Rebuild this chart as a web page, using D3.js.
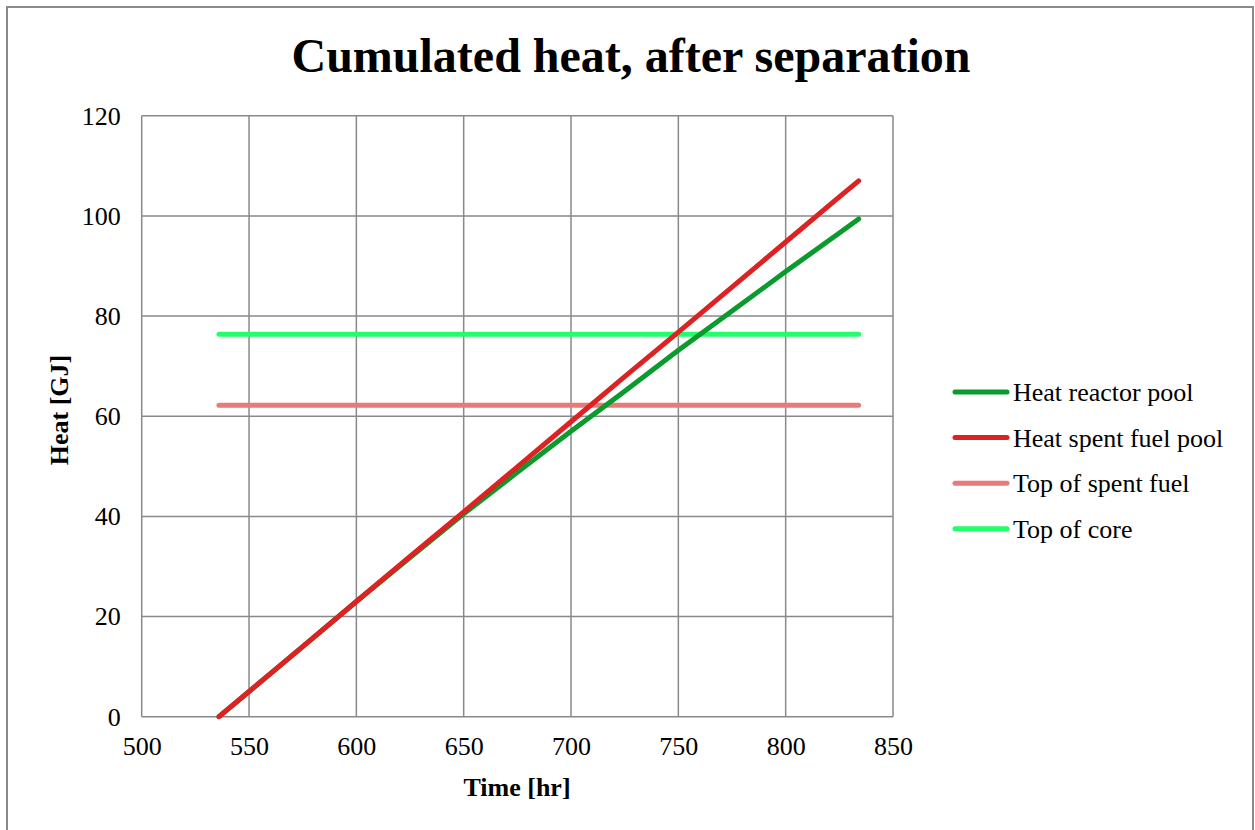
<!DOCTYPE html>
<html><head><meta charset="utf-8">
<script src="https://cdn.jsdelivr.net/npm/d3@7"></script>
<style>body{margin:0;background:#fff}svg{display:block}text{font-family:"Liberation Serif","Times New Roman",serif}</style>
</head><body>
<script>
const timeHr = [536,550,575,600,625,650,675,700,725,750,775,800,825,834];
const heatReactorPool = [0,5.0,14.0,23.0,31.8,40.5,48.8,57.0,65.0,73.2,81.0,88.9,96.6,99.4];
const heatSpentFuelPool = [0,5.03,14.0,23.0,32.0,40.9,49.9,58.9,67.9,76.8,85.8,94.8,103.8,107.0];
const topOfSpentFuel = [62.2,62.2];
const topOfCore = [76.4,76.4];
const flatTime = [536,834];
const xTicks = [500,550,600,650,700,750,800,850];
const yTicks = [0,20,40,60,80,100,120];
const seriesNames = ["Heat reactor pool","Heat spent fuel pool","Top of spent fuel","Top of core"];
const seriesColors = ["#0a9a2e","#dc2222","#e87a7a","#22ff6a"];

const W=1255,H=830;
const svg=d3.select("body").append("svg").attr("width",W).attr("height",H);
svg.append("rect").attr("x",7).attr("y",7).attr("width",1246).attr("height",840).attr("fill","#fff").attr("stroke","#898989").attr("stroke-width",2);

const x=d3.scaleLinear().domain([500,850]).range([141.7,893]);
const y=d3.scaleLinear().domain([0,120]).range([716.7,115.8]);

svg.append("text").attr("x",631).attr("y",72).attr("text-anchor","middle").attr("font-weight","bold").attr("font-size",48).text("Cumulated heat, after separation");

const g=svg.append("g");
g.selectAll(".vg").data(xTicks).join("line").attr("x1",d=>x(d)).attr("x2",d=>x(d)).attr("y1",y(0)).attr("y2",y(120)).attr("stroke","#898989").attr("stroke-width",1.5);
g.selectAll(".hg").data(yTicks).join("line").attr("class","hg").attr("x1",x(500)).attr("x2",x(850)).attr("y1",d=>y(d)).attr("y2",d=>y(d)).attr("stroke","#898989").attr("stroke-width",1.5);

const xAxis=svg.append("g").attr("transform",`translate(0,${y(0)})`).call(d3.axisBottom(x).tickValues(xTicks).tickSize(0).tickPadding(20));
xAxis.select(".domain").remove();
xAxis.selectAll("text").attr("font-size",26).attr("fill","#000").style("font-family","Liberation Serif");
const yAxis=svg.append("g").attr("transform",`translate(${x(500)},0)`).call(d3.axisLeft(y).tickValues(yTicks).tickSize(0).tickPadding(21));
yAxis.select(".domain").remove();
yAxis.selectAll("text").attr("font-size",26).attr("fill","#000").style("font-family","Liberation Serif");

svg.append("text").attr("x",517).attr("y",796).attr("text-anchor","middle").attr("font-weight","bold").attr("font-size",26).text("Time [hr]");
svg.append("text").attr("transform","translate(68,410) rotate(-90)").attr("text-anchor","middle").attr("font-weight","bold").attr("font-size",26).text("Heat [GJ]");

const line=d3.line().x(d=>x(d[0])).y(d=>y(d[1]));
const series=[
  d3.zip(flatTime,topOfSpentFuel),
  d3.zip(flatTime,topOfCore),
  d3.zip(timeHr,heatReactorPool),
  d3.zip(timeHr,heatSpentFuelPool)
];
const cols=[seriesColors[2],seriesColors[3],seriesColors[0],seriesColors[1]];
series.forEach((s,i)=>{
  svg.append("path").datum(s).attr("d",line).attr("fill","none").attr("stroke",cols[i]).attr("stroke-width",5).attr("stroke-linecap","round").attr("stroke-linejoin","round");
});

const leg=svg.append("g");
seriesNames.forEach((n,i)=>{
  const ly=392+i*45.6;
  leg.append("line").attr("x1",955).attr("x2",1007).attr("y1",ly).attr("y2",ly).attr("stroke",seriesColors[i]).attr("stroke-width",5).attr("stroke-linecap","round");
  leg.append("text").attr("x",1013).attr("y",ly+9).attr("font-size",26).text(n);
});
</script>
</body></html>
